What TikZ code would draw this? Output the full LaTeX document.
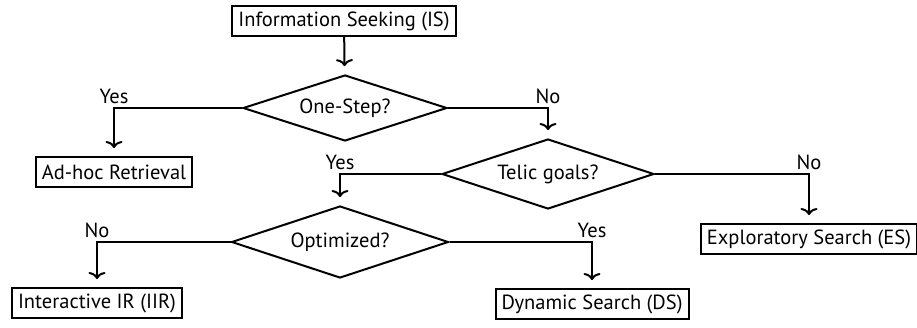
\documentclass[tikz,border=0pt]{standalone}
\usepackage{fontspec}
\setmainfont{PT Sans}
\usetikzlibrary{shapes.geometric,arrows.meta}
\begin{document}
\begin{tikzpicture}[x=1pt,y=-1pt,
  every node/.style={font=\fontsize{20.5}{24}\selectfont},
  box/.style={draw,line width=2pt,inner xsep=6pt,inner ysep=0pt,minimum height=30pt},
  decision/.style={draw,diamond,aspect=3.5,line width=2pt,inner sep=0pt,minimum width=212pt,minimum height=70pt},
  arr/.style={line width=2pt,-{To[length=7pt,width=17pt]},shorten >=8pt},
  lbl/.style={above,inner sep=3pt}]
\useasboundingbox (0,0) rectangle (917,327);
\node[box] (is) at (344,21) {Information Seeking (IS)};
\node[decision,minimum width=204pt,minimum height=66pt] (d1) at (345,108) {One-Step?};
\node[box] (ah) at (114,172) {Ad-hoc Retrieval};
\node[decision] (d2) at (548,174) {Telic goals?};
\node[box] (es) at (809,239) {Exploratory Search (ES)};
\node[decision,minimum width=217pt,minimum height=72pt] (d3) at (340,242) {Optimized?};
\node[box] (iir) at (97,303) {Interactive IR (IIR)};
\node[box] (ds) at (592,304) {Dynamic Search (DS)};
\draw[arr] (is) -- (d1);
\draw[arr] (d1.west) -| node[lbl,pos=0.5]{Yes} (ah.north);
\draw[arr] (d1.east) -| node[lbl,pos=0.5]{No} (d2.north);
\draw[arr] (d2.west) -| node[lbl,pos=0.5]{Yes} (d3.north);
\draw[arr] (d2.east) -| node[lbl,pos=0.5]{No} (es.north);
\draw[arr] (d3.west) -| node[lbl,pos=0.5]{No} (iir.north);
\draw[arr] (d3.east) -| node[lbl,pos=0.5]{Yes} (ds.north);
\end{tikzpicture}
\end{document}
